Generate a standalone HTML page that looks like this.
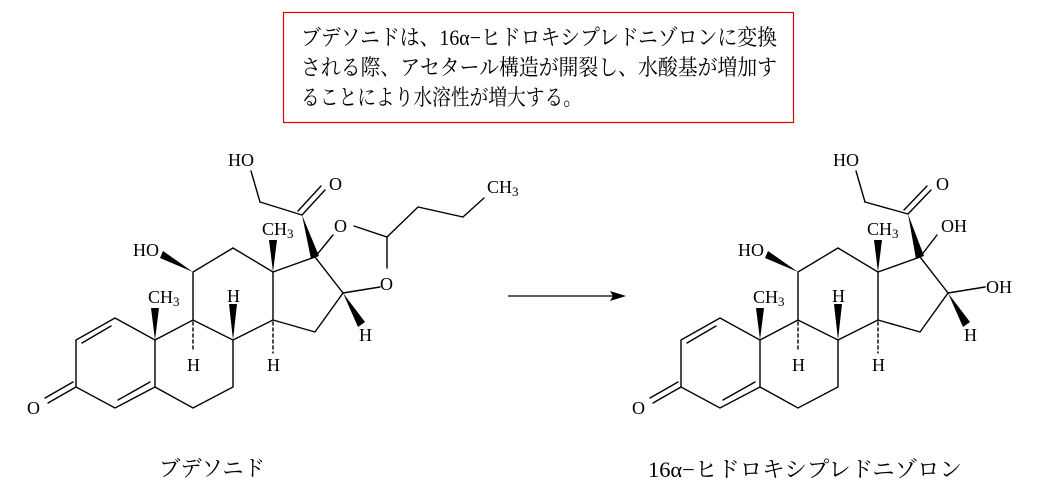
<!DOCTYPE html>
<html><head><meta charset="utf-8"><style>
html,body{margin:0;padding:0;background:#fff;}
svg{display:block;}
.a{font-family:"Liberation Serif",serif;font-size:18px;fill:#000;}
.s{font-size:13px;}
.j{font-family:"Liberation Serif","Noto Serif CJK SC","Noto Sans CJK JP",serif;font-size:22px;fill:#000;}
</style></head><body>
<svg width="1044" height="495" viewBox="0 0 1044 495" xmlns="http://www.w3.org/2000/svg">
<rect x="283.5" y="12.5" width="510" height="110" fill="none" stroke="#e00000" stroke-width="1.2"/>
<text class="j" x="301" y="45" textLength="476" lengthAdjust="spacingAndGlyphs">ブデソニドは、16α−ヒドロキシプレドニゾロンに変換</text>
<text class="j" x="301" y="75" textLength="476" lengthAdjust="spacingAndGlyphs">される際、アセタール構造が開裂し、水酸基が増加す</text>
<text class="j" x="301" y="105" textLength="281" lengthAdjust="spacingAndGlyphs">ることにより水溶性が増大する。</text>

<text class="j" x="159" y="476" textLength="106" lengthAdjust="spacingAndGlyphs">ブデソニド</text>
<text class="j" x="648" y="477" textLength="314" lengthAdjust="spacingAndGlyphs">16α−ヒドロキシプレドニゾロン</text>

<line x1="508" y1="296" x2="615" y2="296" stroke="#000" stroke-width="1.3"/>
<polygon points="626,296 610,291 613,296 610,301" fill="#000"/>

<g stroke="#000" stroke-width="1.4" fill="none" stroke-linecap="round">
<polyline points="115,318 76,340 76,387 115,408 155,387 155,340 115,318"/>
<line x1="111" y1="326" x2="82" y2="343"/>
<line x1="118" y1="400" x2="150" y2="382"/>
<line x1="76" y1="387" x2="48" y2="403"/>
<line x1="73" y1="382" x2="45" y2="398"/>
<polyline points="155,340 193,320 233,340 233,387 193,408 155,387"/>
<polyline points="193,320 193,272 233,248 273,272 273,320 233,340"/>
<polyline points="273,272 315,257 343,293 315,332 273,320"/>
<line x1="315" y1="257" x2="333" y2="235"/>
<line x1="354" y1="226" x2="387" y2="237"/>
<line x1="387" y1="237" x2="387" y2="268"/>
<line x1="380" y1="287" x2="343" y2="293"/>
<polyline points="387,237 418,207 463,217 484,198"/>
<line x1="302" y1="215" x2="260" y2="202"/>
<line x1="260" y1="202" x2="251" y2="171"/>
<line x1="302" y1="215" x2="325" y2="190"/>
<line x1="298" y1="211" x2="321" y2="186"/>
<g stroke-dasharray="3,3"><line x1="193" y1="322" x2="193" y2="352"/><line x1="273" y1="322" x2="273" y2="353"/></g>
</g>
<g fill="#000">
<polygon points="302,215 311,259 319,256"/>
<polygon points="273,272 269,240 277,240"/>
<polygon points="193,272 163,251 160,258"/>
<polygon points="155,340 151,308 159,308"/>
<polygon points="233,340 229,304 237,304"/>
<polygon points="343,293 358,327 365,322"/>
</g>
<g class="a">
<text x="27" y="414">O</text>
<text x="228" y="166">HO</text>
<text x="329" y="190">O</text>
<text x="487" y="193">CH<tspan class="s" dy="3">3</tspan></text>
<text x="334" y="232">O</text>
<text x="380" y="290">O</text>
<text x="262" y="235">CH<tspan class="s" dy="3">3</tspan></text>
<text x="133" y="256">HO</text>
<text x="148" y="303">CH<tspan class="s" dy="3">3</tspan></text>
<text x="227" y="302">H</text>
<text x="187" y="371">H</text>
<text x="267" y="371">H</text>
<text x="359" y="341">H</text>
</g>

<g transform="translate(605,0)">
<g stroke="#000" stroke-width="1.4" fill="none" stroke-linecap="round">
<polyline points="115,318 76,340 76,387 115,408 155,387 155,340 115,318"/>
<line x1="111" y1="326" x2="82" y2="343"/>
<line x1="118" y1="400" x2="150" y2="382"/>
<line x1="76" y1="387" x2="48" y2="403"/>
<line x1="73" y1="382" x2="45" y2="398"/>
<polyline points="155,340 193,320 233,340 233,387 193,408 155,387"/>
<polyline points="193,320 193,272 233,248 273,272 273,320 233,340"/>
<polyline points="273,272 315,257 343,293 315,332 273,320"/>
<line x1="315" y1="257" x2="332" y2="235"/>
<line x1="343" y1="293" x2="380" y2="287"/>
<line x1="303" y1="214" x2="260" y2="202"/>
<line x1="260" y1="202" x2="251" y2="171"/>
<line x1="303" y1="214" x2="326" y2="190"/>
<line x1="299" y1="210" x2="322" y2="186"/>
<g stroke-dasharray="3,3"><line x1="193" y1="322" x2="193" y2="352"/><line x1="273" y1="322" x2="273" y2="353"/></g>
</g>
<g fill="#000">
<polygon points="303,214 311,259 319,256"/>
<polygon points="273,272 269,240 277,240"/>
<polygon points="193,272 163,251 160,258"/>
<polygon points="155,340 151,308 159,308"/>
<polygon points="233,340 229,304 237,304"/>
<polygon points="343,293 358,327 365,322"/>
</g>
<g class="a">
<text x="27" y="414">O</text>
<text x="228" y="166">HO</text>
<text x="331" y="190">O</text>
<text x="336" y="232">OH</text>
<text x="381" y="293">OH</text>
<text x="262" y="235">CH<tspan class="s" dy="3">3</tspan></text>
<text x="133" y="256">HO</text>
<text x="148" y="303">CH<tspan class="s" dy="3">3</tspan></text>
<text x="227" y="302">H</text>
<text x="187" y="371">H</text>
<text x="267" y="371">H</text>
<text x="359" y="341">H</text>
</g>
</g>
</svg>
</body></html>
